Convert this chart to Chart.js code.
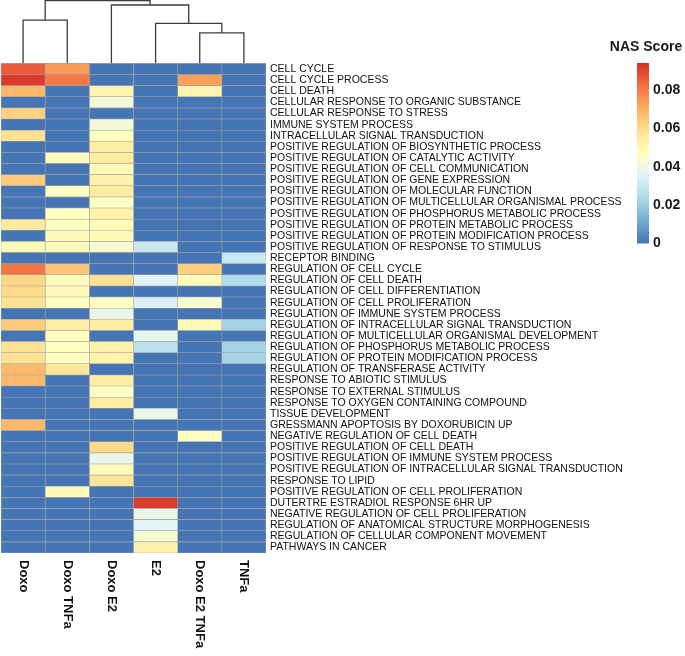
<!DOCTYPE html>
<html>
<head>
<meta charset="utf-8">
<script src="https://cdn.jsdelivr.net/npm/chart.js@4/dist/chart.umd.min.js"></script>
<style>
  html, body { margin: 0; padding: 0; background: #ffffff; }
  #wrap { width: 685px; height: 656px; }
</style>
</head>
<body>
<div id="wrap"><canvas id="heatmap" width="685" height="656"></canvas></div>
<script>
// columns (samples), in dendrogram leaf order
const columns = ['Doxo', 'Doxo TNFa', 'Doxo E2', 'E2', 'Doxo E2 TNFa', 'TNFa'];

const rowNames = [
    'CELL CYCLE',
    'CELL CYCLE PROCESS',
    'CELL DEATH',
    'CELLULAR RESPONSE TO ORGANIC SUBSTANCE',
    'CELLULAR RESPONSE TO STRESS',
    'IMMUNE SYSTEM PROCESS',
    'INTRACELLULAR SIGNAL TRANSDUCTION',
    'POSITIVE REGULATION OF BIOSYNTHETIC PROCESS',
    'POSITIVE REGULATION OF CATALYTIC ACTIVITY',
    'POSITIVE REGULATION OF CELL COMMUNICATION',
    'POSITIVE REGULATION OF GENE EXPRESSION',
    'POSITIVE REGULATION OF MOLECULAR FUNCTION',
    'POSITIVE REGULATION OF MULTICELLULAR ORGANISMAL PROCESS',
    'POSITIVE REGULATION OF PHOSPHORUS METABOLIC PROCESS',
    'POSITIVE REGULATION OF PROTEIN METABOLIC PROCESS',
    'POSITIVE REGULATION OF PROTEIN MODIFICATION PROCESS',
    'POSITIVE REGULATION OF RESPONSE TO STIMULUS',
    'RECEPTOR BINDING',
    'REGULATION OF CELL CYCLE',
    'REGULATION OF CELL DEATH',
    'REGULATION OF CELL DIFFERENTIATION',
    'REGULATION OF CELL PROLIFERATION',
    'REGULATION OF IMMUNE SYSTEM PROCESS',
    'REGULATION OF INTRACELLULAR SIGNAL TRANSDUCTION',
    'REGULATION OF MULTICELLULAR ORGANISMAL DEVELOPMENT',
    'REGULATION OF PHOSPHORUS METABOLIC PROCESS',
    'REGULATION OF PROTEIN MODIFICATION PROCESS',
    'REGULATION OF TRANSFERASE ACTIVITY',
    'RESPONSE TO ABIOTIC STIMULUS',
    'RESPONSE TO EXTERNAL STIMULUS',
    'RESPONSE TO OXYGEN CONTAINING COMPOUND',
    'TISSUE DEVELOPMENT',
    'GRESSMANN APOPTOSIS BY DOXORUBICIN UP',
    'NEGATIVE REGULATION OF CELL DEATH',
    'POSITIVE REGULATION OF CELL DEATH',
    'POSITIVE REGULATION OF IMMUNE SYSTEM PROCESS',
    'POSITIVE REGULATION OF INTRACELLULAR SIGNAL TRANSDUCTION',
    'RESPONSE TO LIPID',
    'POSITIVE REGULATION OF CELL PROLIFERATION',
    'DUTERTRE ESTRADIOL RESPONSE 6HR UP',
    'NEGATIVE REGULATION OF CELL PROLIFERATION',
    'REGULATION OF ANATOMICAL STRUCTURE MORPHOGENESIS',
    'REGULATION OF CELLULAR COMPONENT MOVEMENT',
    'PATHWAYS IN CANCER'
];

// NAS scores per column (one value per row)
const doxo = [0.086, 0.092, 0.068, 0, 0.062, 0, 0.058, 0, 0, 0, 0.064, 0, 0, 0, 0.055, 0, 0.049, 0,
    0.081, 0.061, 0.060, 0.058, 0, 0.064, 0, 0.058, 0.058, 0.068, 0.068, 0, 0, 0, 0.068, 0,
    0, 0, 0, 0, 0, 0, 0, 0, 0, 0];
const doxoTnfa = [0.074, 0.080, 0, 0, 0, 0, 0, 0, 0.048, 0, 0, 0.047, 0, 0.047, 0.047, 0.048, 0.049, 0,
    0.065, 0.048, 0.048, 0.047, 0, 0.054, 0.047, 0.047, 0.047, 0.056, 0, 0, 0, 0, 0, 0,
    0, 0, 0, 0, 0.048, 0, 0, 0, 0, 0];
const doxoE2 = [0, 0, 0.051, 0.042, 0, 0.042, 0.047, 0.054, 0.054, 0.049, 0.052, 0.054, 0.046, 0.052, 0.049, 0.049, 0.044, 0,
    0, 0.058, 0, 0.047, 0.039, 0.054, 0, 0.052, 0.052, 0, 0.054, 0.046, 0.054, 0, 0, 0,
    0.060, 0.039, 0.048, 0.057, 0, 0, 0, 0, 0, 0];
const e2 = [0, 0, 0, 0, 0, 0, 0, 0, 0, 0, 0, 0, 0, 0, 0, 0, 0.030, 0,
    0, 0.035, 0, 0.034, 0, 0, 0.037, 0.027, 0, 0, 0, 0, 0, 0.039, 0, 0,
    0, 0, 0, 0, 0, 0.092, 0.039, 0.036, 0.044, 0.052];
const doxoE2Tnfa = [0, 0.073, 0.051, 0, 0, 0, 0, 0, 0, 0, 0, 0, 0, 0, 0, 0, 0, 0,
    0.063, 0.048, 0, 0.044, 0, 0.049, 0, 0, 0, 0, 0, 0, 0, 0, 0, 0.046,
    0, 0, 0, 0, 0, 0, 0, 0, 0, 0];
const tnfa = [0, 0, 0, 0, 0, 0, 0, 0, 0, 0, 0, 0, 0, 0, 0, 0, 0, 0.030,
    0, 0.025, 0, 0, 0, 0.022, 0, 0.022, 0.022, 0, 0, 0, 0, 0, 0, 0,
    0, 0, 0, 0, 0, 0, 0, 0, 0, 0];

const columnValues = [doxo, doxoTnfa, doxoE2, e2, doxoE2Tnfa, tnfa];

// dendrogram: [left node, right node, height]; leaves are 0..5, merge k gets id 6+k
const dendroMerges = [
    [0, 1, 3.9],
    [4, 5, 2.75],
    [3, 7, 3.6],
    [2, 8, 5.25],
    [6, 9, 5.65]
];

const legendTicks = [0, 0.02, 0.04, 0.06, 0.08];
const scoreMax = 0.094;
const colorStops = ['#4575b4', '#74add1', '#abd9e9', '#e0f3f8', '#ffffbf', '#fee090', '#fdae61', '#f46d43', '#d73027'];

function hexToRgb(h) {
    return [parseInt(h.slice(1, 3), 16), parseInt(h.slice(3, 5), 16), parseInt(h.slice(5, 7), 16)];
}

function scoreColor(v) {
    let t = Math.max(0, Math.min(1, v / scoreMax)) * (colorStops.length - 1);
    const i = Math.min(Math.floor(t), colorStops.length - 2);
    const f = t - i;
    const a = hexToRgb(colorStops[i]);
    const b = hexToRgb(colorStops[i + 1]);
    const c = a.map((x, k) => Math.round(x + (b[k] - x) * f));
    return 'rgb(' + c.join(',') + ')';
}

// heatmap columns as horizontal floating bars
const cellDatasets = columnValues.map((vals, c) => ({
    type: 'bar',
    indexAxis: 'y',
    label: columns[c],
    data: vals.map((v, r) => ({ y: r + 0.5, x: [c, c + 1] })),
    backgroundColor: vals.map(scoreColor),
    borderColor: '#a3a3a3',
    borderWidth: 0.6,
    borderSkipped: false,
    grouped: false,
    barPercentage: 1,
    categoryPercentage: 1
}));

// dendrogram links as line segments
const nodeX = columns.map((_, i) => i + 0.5);
const nodeH = columns.map(() => 0);
const dendroDatasets = dendroMerges.map(([a, b, h]) => {
    nodeX.push((nodeX[a] + nodeX[b]) / 2);
    nodeH.push(h);
    return {
        type: 'scatter',
        data: [
            { x: nodeX[a], y: -nodeH[a] },
            { x: nodeX[a], y: -h },
            { x: nodeX[b], y: -h },
            { x: nodeX[b], y: -nodeH[b] }
        ],
        showLine: true,
        borderColor: '#3c3c3c',
        borderWidth: 1.3,
        pointRadius: 0,
        fill: false,
        clip: false
    };
});

// column names, rotated clockwise under the grid
const columnLabels = {
    id: 'columnLabels',
    afterDraw(chart) {
        const ctx = chart.ctx;
        const xs = chart.scales.x;
        const top = chart.chartArea.bottom + 7;
        ctx.save();
        ctx.fillStyle = '#111111';
        ctx.font = 'bold 13px "Liberation Sans", Arial, sans-serif';
        ctx.textAlign = 'left';
        ctx.textBaseline = 'middle';
        columns.forEach((name, i) => {
            ctx.save();
            ctx.translate(xs.getPixelForValue(i + 0.5), top);
            ctx.rotate(Math.PI / 2);
            ctx.fillText(name, 0, 0);
            ctx.restore();
        });
        ctx.restore();
    }
};

// colour bar legend
const colorBar = {
    id: 'colorBar',
    afterDraw(chart) {
        const ctx = chart.ctx;
        const x0 = 637, w = 12, top = 63, bottom = 243.5;
        ctx.save();
        const grad = ctx.createLinearGradient(0, bottom, 0, top);
        colorStops.forEach((c, i) => grad.addColorStop(i / (colorStops.length - 1), c));
        ctx.fillStyle = grad;
        ctx.fillRect(x0, top, w, bottom - top);

        ctx.fillStyle = '#1a1a1a';
        ctx.font = 'bold 14px "Liberation Sans", Arial, sans-serif';
        ctx.textAlign = 'center';
        ctx.textBaseline = 'middle';
        ctx.fillText('NAS Score', 646, 47);

        ctx.font = 'bold 14px "Liberation Sans", Arial, sans-serif';
        ctx.textAlign = 'left';
        legendTicks.forEach(v => {
            const y = bottom - (v / scoreMax) * (bottom - top);
            ctx.fillText(v === 0 ? '0' : v.toFixed(2), x0 + w + 4, y);
        });
        ctx.restore();
    }
};

new Chart(document.getElementById('heatmap'), {
    type: 'bar',
    data: { datasets: [...cellDatasets, ...dendroDatasets] },
    options: {
        responsive: false,
        animation: false,
        layout: { padding: { left: 1, top: 0, right: 0, bottom: 0 } },
        plugins: {
            legend: { display: false },
            tooltip: { enabled: false }
        },
        scales: {
            x: {
                type: 'linear',
                min: 0,
                max: columns.length,
                offset: false,
                grid: { display: false },
                border: { display: false },
                ticks: { display: false },
                afterFit(scale) { scale.height = 103; }
            },
            y: {
                type: 'linear',
                position: 'right',
                reverse: true,
                min: -5.7,
                max: rowNames.length,
                offset: false,
                grid: { display: false, drawTicks: false },
                border: { display: false },
                afterBuildTicks(scale) {
                    scale.ticks = rowNames.map((_, i) => ({ value: i + 0.5 }));
                },
                ticks: {
                    autoSkip: false,
                    padding: 4,
                    color: '#111111',
                    font: { family: '"Liberation Sans", Arial, sans-serif', size: 10.5 },
                    callback: (value, index) => rowNames[index]
                },
                afterFit(scale) {
                    scale.width = 419;
                    scale.paddingTop = 0;
                    scale.paddingBottom = 0;
                }
            }
        }
    },
    plugins: [columnLabels, colorBar]
});
</script>
</body>
</html>
